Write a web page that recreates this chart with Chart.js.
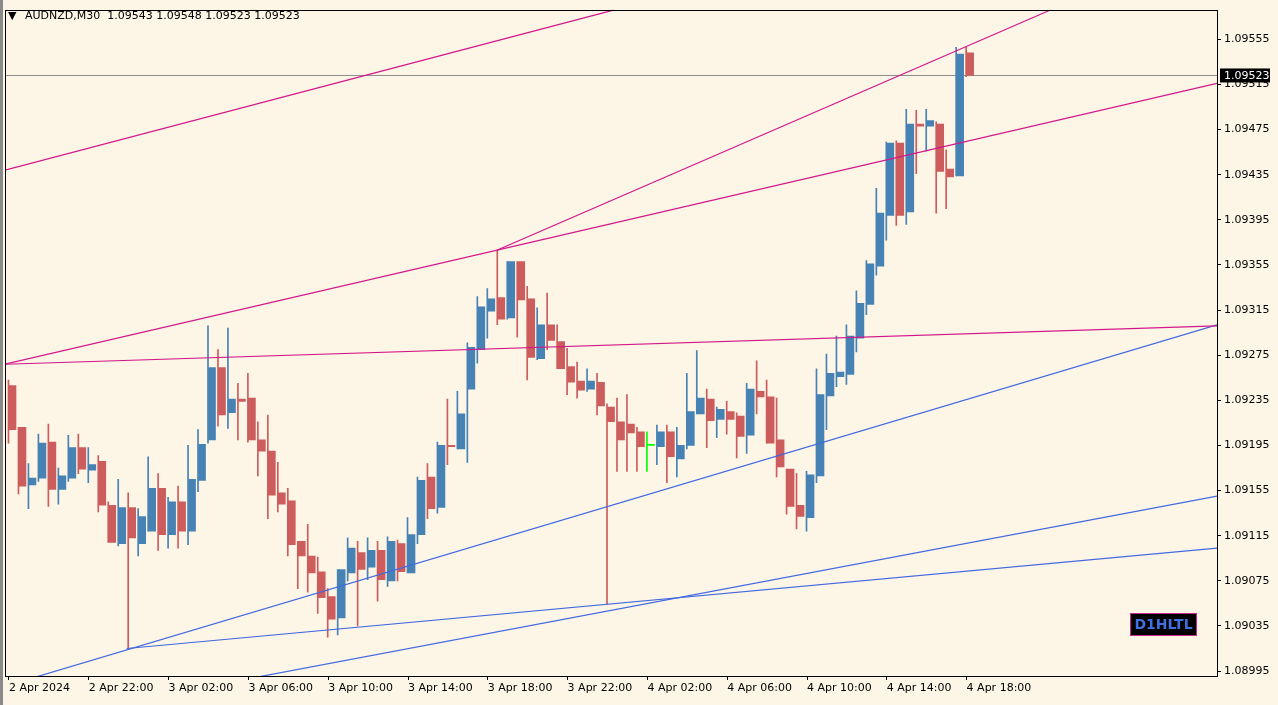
<!DOCTYPE html>
<html>
<head>
<meta charset="utf-8">
<script src="https://cdn.jsdelivr.net/npm/chart.js@4.4.1/dist/chart.umd.min.js"></script>
<style>
  html, body { margin: 0; padding: 0; background: #fdf5e6; overflow: hidden; }
  #wrap { width: 1278px; height: 705px; position: relative; }
</style>
</head>
<body>
<div id="wrap"><canvas id="chart"></canvas></div>
<script>
// ===== data (AUDNZD M30) =====
const opens  = [1.09248,1.09211,1.09160,1.09166,1.09198,1.09156,1.09166,1.09193,1.09173,1.09181,
                1.09142,1.09108,1.09140,1.09108,1.09119,1.09157,1.09116,1.09145,1.09119,1.09164,
                1.09200,1.09264,1.09224,1.09236,1.09237,1.09200,1.09190,1.09153,1.09146,1.09110,
                1.09097,1.09083,1.09061,1.09042,1.09082,1.09100,1.09087,1.09102,1.09075,1.09108,
                1.09082,1.09116,1.09167,1.09140,1.09195,1.09192,1.09245,1.09280,1.09314,1.09326,
                1.09308,1.09358,1.09325,1.09272,1.09302,1.09287,1.09265,1.09252,1.09245,1.09251,
                1.09229,1.09216,1.09214,1.09207,1.09195,1.09194,1.09207,1.09183,1.09195,1.09223,
                1.09236,1.09218,1.09225,1.09221,1.09204,1.09243,1.09238,1.09200,1.09174,1.09142,
                1.09131,1.09168,1.09239,1.09256,1.09258,1.09290,1.09320,1.09354,1.09399,1.09463,
                1.09402,1.09480,1.09478,1.09480,1.09440,1.09434,1.09543];
const highs  = [1.09253,1.09211,1.09179,1.09205,1.09214,1.09175,1.09204,1.09205,1.09193,1.09186,
                1.09145,1.09165,1.09153,1.09139,1.09185,1.09170,1.09149,1.09159,1.09195,1.09209,
                1.09301,1.09280,1.09299,1.09250,1.09259,1.09216,1.09222,1.09180,1.09157,1.09110,
                1.09125,1.09096,1.09068,1.09085,1.09113,1.09110,1.09113,1.09110,1.09114,1.09111,
                1.09131,1.09167,1.09179,1.09198,1.09236,1.09243,1.09286,1.09327,1.09334,1.09368,
                1.09358,1.09358,1.09336,1.09317,1.09330,1.09302,1.09281,1.09269,1.09263,1.09259,
                1.09232,1.09237,1.09240,1.09211,1.09207,1.09213,1.09213,1.09211,1.09259,1.09279,
                1.09245,1.09229,1.09234,1.09224,1.09250,1.09270,1.09253,1.09237,1.09174,1.09170,
                1.09172,1.09263,1.09276,1.09292,1.09302,1.09332,1.09359,1.09423,1.09464,1.09465,
                1.09493,1.09492,1.09493,1.09482,1.09457,1.09548,1.09548];
const lows   = [1.09197,1.09152,1.09139,1.09163,1.09141,1.09143,1.09163,1.09170,1.09162,1.09136,
                1.09109,1.09106,1.09014,1.09097,1.09119,1.09102,1.09104,1.09104,1.09107,1.09154,
                1.09197,1.09212,1.09210,1.09200,1.09198,1.09168,1.09130,1.09136,1.09097,1.09068,
                1.09065,1.09046,1.09025,1.09027,1.09075,1.09035,1.09076,1.09057,1.09070,1.09075,
                1.09082,1.09108,1.09130,1.09135,1.09178,1.09192,1.09180,1.09268,1.09290,1.09302,
                1.09307,1.09291,1.09253,1.09271,1.09280,1.09263,1.09240,1.09237,1.09243,1.09222,
                1.09054,1.09172,1.09172,1.09172,1.09172,1.09178,1.09162,1.09167,1.09192,1.09223,
                1.09193,1.09202,1.09205,1.09184,1.09188,1.09223,1.09197,1.09167,1.09134,1.09121,
                1.09119,1.09162,1.09209,1.09247,1.09249,1.09278,1.09311,1.09346,1.09377,1.09390,
                1.09391,1.09436,1.09456,1.09401,1.09405,1.09434,1.09522];
const closes = [1.09209,1.09159,1.09166,1.09197,1.09156,1.09168,1.09193,1.09174,1.09178,1.09142,
                1.09109,1.09140,1.09113,1.09132,1.09157,1.09116,1.09145,1.09119,1.09165,1.09196,
                1.09264,1.09222,1.09236,1.09234,1.09200,1.09190,1.09151,1.09143,1.09107,1.09097,
                1.09082,1.09060,1.09041,1.09085,1.09104,1.09085,1.09102,1.09076,1.09110,1.09083,
                1.09116,1.09164,1.09139,1.09195,1.09194,1.09223,1.09282,1.09318,1.09325,1.09307,
                1.09358,1.09324,1.09273,1.09302,1.09288,1.09263,1.09251,1.09244,1.09252,1.09230,
                1.09216,1.09200,1.09206,1.09194,1.09195,1.09207,1.09185,1.09195,1.09225,1.09237,
                1.09217,1.09227,1.09218,1.09203,1.09245,1.09238,1.09197,1.09176,1.09141,1.09132,
                1.09169,1.09240,1.09259,1.09260,1.09292,1.09321,1.09356,1.09401,1.09463,1.09399,
                1.09480,1.09478,1.09483,1.09438,1.09433,1.09542,1.09523];

const timeLabels = ['2 Apr 2024','2 Apr 22:00','3 Apr 02:00','3 Apr 06:00','3 Apr 10:00','3 Apr 14:00',
                    '3 Apr 18:00','3 Apr 22:00','4 Apr 02:00','4 Apr 06:00','4 Apr 10:00','4 Apr 14:00','4 Apr 18:00'];
const priceTicks = [1.08995,1.09035,1.09075,1.09115,1.09155,1.09195,1.09235,1.09275,
                    1.09315,1.09355,1.09395,1.09435,1.09475,1.09515,1.09555];
const lastPrice = 1.09523;

// trend lines: [barIndex, price] pairs
const magentaLines = [
  [[-0.4, 1.09439], [60.6, 1.09581]],
  [[48.9, 1.09368], [104.4, 1.09581]],
  [[-0.4, 1.09267], [121.1, 1.09516]],
  [[-0.4, 1.09267], [121.1, 1.09301]]
];
const blueLines = [
  [[2.8, 1.08990], [121.1, 1.09302]],
  [[11.8, 1.09015], [121.1, 1.09104]],
  [[25.1, 1.08990], [121.1, 1.09150]]
];

// ===== styles =====
const BG = '#fdf5e6';
const UP = '#4682b4';
const DOWN = '#cd5c5c';
const DOJI = '#00ff00';
const FONT = '"DejaVu Sans", sans-serif';

function candleColor(i) {
  if (closes[i] > opens[i]) return UP;
  if (closes[i] < opens[i]) return DOWN;
  return DOJI;
}

const idx = opens.map((_, i) => i);
const colors = idx.map(candleColor);

const datasets = [];
magentaLines.forEach(l => datasets.push({
  type: 'line', data: l.map(p => ({ x: p[0], y: p[1] })),
  borderColor: '#d3168a', borderWidth: 1.2, pointRadius: 0, order: 1
}));
blueLines.forEach(l => datasets.push({
  type: 'line', data: l.map(p => ({ x: p[0], y: p[1] })),
  borderColor: '#4169e1', borderWidth: 1.2, pointRadius: 0, order: 1
}));
datasets.push({
  type: 'line', data: [{ x: -0.4, y: lastPrice }, { x: 121.1, y: lastPrice }],
  borderColor: '#8c8c8c', borderWidth: 1, pointRadius: 0, order: 3
});
// wicks
datasets.push({
  type: 'bar', data: idx.map(i => ({ x: i, y: [lows[i], highs[i]] })),
  backgroundColor: colors, barThickness: 1, minBarLength: 1, order: 2
});
// bodies
datasets.push({
  type: 'bar', data: idx.map(i => ({ x: i, y: [opens[i], closes[i]] })),
  backgroundColor: colors, barThickness: 7, minBarLength: 1, order: 2
});

// ===== extra drawing: frame, header, price tag, label =====
const decor = {
  id: 'decor',
  beforeDraw(chart) {
    const c = chart.ctx;
    c.save();
    c.fillStyle = BG;
    c.fillRect(0, 0, chart.width, chart.height);
    c.restore();
  },
  afterDraw(chart) {
    const c = chart.ctx, a = chart.chartArea;
    c.save();
    // window edge
    c.fillStyle = '#8a8a8a';
    c.fillRect(0, 0, 3, chart.height);
    // plot frame
    c.strokeStyle = '#000';
    c.lineWidth = 1;
    c.strokeRect(Math.round(a.left) + 0.5, Math.round(a.top) + 0.5,
                 Math.round(a.right - a.left), Math.round(a.bottom - a.top));
    // header
    c.fillStyle = '#000';
    c.font = '11px ' + FONT;
    c.textBaseline = 'middle';
    c.fillText('\u25BC', 8, 16);
    c.fillText('AUDNZD,M30  1.09543 1.09548 1.09523 1.09523', 25, 16);
    // last price tag
    const y = chart.scales.y.getPixelForValue(lastPrice);
    c.fillStyle = '#000';
    c.fillRect(a.right + 3, y - 7, 50, 14);
    c.fillStyle = '#fff';
    c.fillText('1.09523', a.right + 7, y + 0.5);
    // D1HLTL box
    c.fillStyle = '#000';
    c.fillRect(1130, 613, 67, 23);
    c.strokeStyle = '#c8288a';
    c.strokeRect(1130.5, 613.5, 66, 22);
    c.fillStyle = '#3f6fe0';
    c.font = 'bold 14px ' + FONT;
    c.textAlign = 'center';
    c.fillText('D1HLTL', 1163.5, 625);
    c.restore();
  }
};

new Chart(document.getElementById('chart'), {
  data: { datasets },
  options: {
    responsive: true,
    maintainAspectRatio: false,
    animation: false,
    layout: { padding: { left: 5, top: 0, right: 0, bottom: 0 } },
    plugins: { legend: { display: false }, tooltip: { enabled: false } },
    scales: {
      x: {
        type: 'linear', min: -0.4, max: 121.1, offset: false,
        grid: { drawOnChartArea: false, color: '#000', tickLength: 4, offset: false },
        border: { display: false },
        afterBuildTicks(s) { s.ticks = timeLabels.map((_, k) => ({ value: k * 8 })); },
        afterFit(s) { s.height = 29; },
        ticks: {
          autoSkip: false, maxRotation: 0, align: 'start', padding: 2,
          color: '#000', font: { family: FONT, size: 11 },
          callback: v => timeLabels[Math.round(v / 8)]
        }
      },
      y: {
        position: 'right', min: 1.089906, max: 1.095814,
        grid: { drawOnChartArea: false, color: '#000', tickLength: 4 },
        border: { display: false },
        afterBuildTicks(s) { s.ticks = priceTicks.map(v => ({ value: v })); },
        afterFit(s) { s.width = 61; },
        ticks: {
          padding: 3, color: '#000', font: { family: FONT, size: 11 },
          callback: v => v.toFixed(5)
        }
      }
    }
  },
  plugins: [decor]
});
</script>
</body>
</html>
